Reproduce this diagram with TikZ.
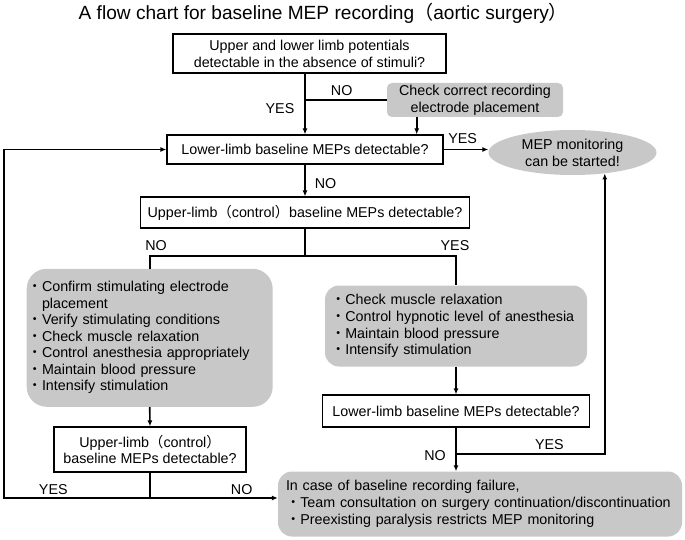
\documentclass[tikz,border=0pt]{standalone}
\usepackage{fontspec}
\setmainfont{Liberation Sans}
\newfontfamily\jp{Noto Sans CJK JP}
\newcommand{\jpl}{{\jp （}}
\newcommand{\jpr}{{\jp ）}}
\newcommand{\bul}{{\jp ・}}
\usetikzlibrary{arrows.meta,shapes.geometric,calc}
\definecolor{boxgray}{RGB}{200,200,200}
\begin{document}
\begin{tikzpicture}[x=1pt,y=-1pt,
  conn/.style={line width=1.6pt,line join=miter},
  arr/.style={conn,-{Latex[length=6pt,width=5pt]}},
  txt/.style={font=\fontsize{14.3}{16.8}\selectfont},
  qbox/.style={txt,draw,line width=1.2pt,rectangle,inner sep=0pt,align=center},
  gbox/.style={txt,fill=boxgray,draw=none,inner ysep=0pt},
  lbl/.style={font=\fontsize{14.3}{16}\selectfont,inner sep=0pt},
]
\useasboundingbox (0,0) rectangle (685,540);
\node[font=\fontsize{19.1}{22}\selectfont,inner sep=0pt,anchor=base] (title) at (323.4,20) {A flow chart for baseline MEP recording\jpl aortic surgery\jpr};
\node[qbox,minimum width=273,minimum height=39] (b1) at (309.5,53.5) {Upper and lower limb potentials\\detectable in the absence of stimuli?};
\node[gbox,rounded corners=5,minimum width=176,minimum height=34,align=center,inner xsep=0pt] (g1) at (475,100) {Check correct recording\\electrode placement};
\node[qbox,minimum width=276,minimum height=29] (b2) at (305,149.5) {Lower-limb baseline MEPs detectable?};
\node[txt,ellipse,fill=boxgray,minimum width=168,minimum height=45,inner sep=0pt,align=center] (ell) at (572.5,152.5) {MEP monitoring\\can be started!};
\node[qbox,minimum width=329,minimum height=31] (b3) at (305,212.5) {Upper-limb\jpl control\jpr baseline MEPs detectable?};
\node[gbox,rounded corners=20,minimum height=138,text width=244,inner xsep=1,align=left,font=\fontsize{14.3}{16.5}\selectfont] (g2) at (149.7,337.8) {\bul Confirm stimulating electrode\\\hspace*{1em}placement\\\bul Verify stimulating conditions\\\bul Check muscle relaxation\\\bul Control anesthesia appropriately\\\bul Maintain blood pressure\\\bul Intensify stimulation};
\node[gbox,rounded corners=14,minimum height=81,text width=250,inner xsep=6,align=left] (g3) at (456,326) {\bul Check muscle relaxation\\\bul Control hypnotic level of anesthesia\\\bul Maintain blood pressure\\\bul Intensify stimulation};
\node[qbox,minimum width=192,minimum height=45] (b4) at (150,449.5) {Upper-limb\jpl control\jpr\\baseline MEPs detectable?};
\node[qbox,minimum width=267,minimum height=32] (b5) at (456,411) {Lower-limb baseline MEPs detectable?};
\node[gbox,rounded corners=14,minimum height=65,text width=388,inner xsep=8,align=left,font=\fontsize{14.3}{17.2}\selectfont] (g4) at (480,504) {In case of baseline recording failure,\\\bul Team consultation on surgery continuation/discontinuation\\\bul Preexisting paralysis restricts MEP monitoring};
\node[lbl] (l1) at (341.7,90.7) {NO};
\node[lbl] (l2) at (280,108.3) {YES};
\node[lbl] (l3) at (462.7,138.3) {YES};
\node[lbl] (l4) at (325.5,184) {NO};
\node[lbl] (l5) at (156,246) {NO};
\node[lbl] (l6) at (455,246) {YES};
\node[lbl] (l7) at (53.3,489.3) {YES};
\node[lbl] (l8) at (241.7,489.3) {NO};
\node[lbl] (l9) at (549.3,445) {YES};
\node[lbl] (l10) at (435,456) {NO};
\coordinate (br) at (305,256);
\coordinate (jl) at (4,498);
\coordinate (yj) at (456,454);
\draw[arr] (b2.north |- b1.south) -- (b2.north);
\draw[conn] (b2.north |- g1.west) -- (g1.west);
\draw[arr] ([xshift=-58.3]g1.south) -- ([xshift=-58.3]g1.south |- b2.north);
\draw[arr] (b2.east) -- (b2.east -| ell.west);
\draw[arr] (b2.south) -- (b3.north);
\draw[conn] (b3.south) -- (br);
\draw[conn] (g2.north) |- (br) -| (g3.north);
\draw[arr] (g2.south) -- (b4.north);
\draw[arr] (b4.south) -- (b4.south |- jl) -- (jl) |- (b2.west);
\draw[arr] (b4.south |- jl) -- (jl -| g4.west);
\draw[arr] (g3.south) -- (b5.north);
\draw[arr] (b5.south) -- (b5.south |- g4.north);
\draw[arr] (yj) -| (ell.-33.6);
\end{tikzpicture}
\end{document}
